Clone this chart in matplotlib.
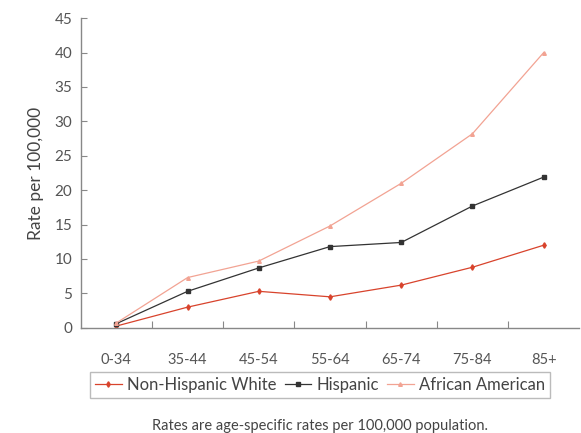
import matplotlib.pyplot as plt

plt.rcParams['font.family'] = ['Lato', 'DejaVu Sans']

age_groups = ["0-34", "35-44", "45-54", "55-64", "65-74", "75-84", "85+"]
non_hispanic_white = [0.25, 3.0, 5.3, 4.5, 6.2, 8.8, 12.0]
hispanic = [0.6, 5.3, 8.7, 11.8, 12.4, 17.7, 21.9]
african_american = [0.7, 7.3, 9.7, 14.8, 21.0, 28.2, 40.0]

fig = plt.figure(figsize=(5.81, 4.33), dpi=100)
ax = fig.add_axes([0.139, 0.243, 0.858, 0.715])

x = range(len(age_groups))
ax.plot(x, non_hispanic_white, color="#d8432c", lw=0.9, marker="d", ms=2.8,
        label="Non-Hispanic White")
ax.plot(x, hispanic, color="#333333", lw=0.9, marker="s", ms=2.6,
        label="Hispanic")
ax.plot(x, african_american, color="#f2a393", lw=0.9, marker="^", ms=2.6,
        label="African American")

ax.set_xlim(-0.5, 6.5)
ax.set_ylim(0, 45)
ax.set_yticks(range(0, 50, 5))
ax.set_xticks([i + 0.5 for i in range(6)])
ax.set_xticklabels([])
ax.set_xticks(list(x), minor=True)
ax.set_xticklabels(age_groups, minor=True)
ax.tick_params(axis="x", which="minor", length=0, pad=18, labelsize=10.5, labelcolor="#555555")
ax.tick_params(axis="x", which="major", direction="in", length=5, color="#888888")
ax.tick_params(axis="y", direction="in", length=4, color="#888888", labelsize=11,
               labelcolor="#555555", pad=6)

for s in ["top", "right"]:
    ax.spines[s].set_visible(False)
for s in ["left", "bottom"]:
    ax.spines[s].set_color("#888888")
    ax.spines[s].set_linewidth(1)

ax.set_ylabel("Rate per 100,000", fontsize=12.5, color="#444444", labelpad=8)

fig.legend(loc="center", bbox_to_anchor=(320 / 581, 1 - 385 / 433), ncol=3,
           fontsize=12, frameon=True, fancybox=False, edgecolor="#aaaaaa",
           handlelength=1.6, handletextpad=0.3, columnspacing=0.5,
           borderpad=0.3, labelcolor="#444444")

fig.text(320 / 581, 1 - 426 / 433, "Rates are age-specific rates per 100,000 population.",
         ha="center", va="center", fontsize=10.5, color="#444444")

fig.savefig("out.png", dpi=100)
